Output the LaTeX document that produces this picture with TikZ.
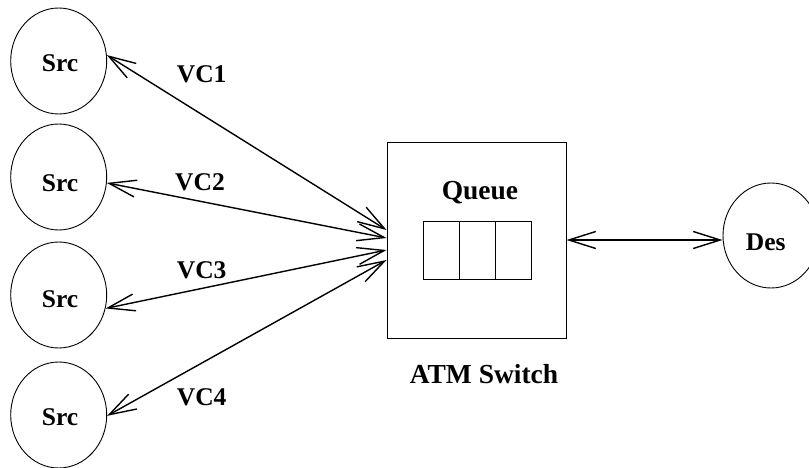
\documentclass[tikz,border=0pt]{standalone}
\usepackage{fontspec}
\setmainfont{Liberation Serif}
\usetikzlibrary{arrows.meta,shapes.geometric,calc}
\begin{document}
\begin{tikzpicture}[x=1pt,y=-1pt,
  endpt/.style={draw=black,line width=0.9pt,ellipse,minimum width=96pt,minimum height=106pt,inner sep=0pt},
  lbl/.style={anchor=base,inner sep=0pt,font=\fontsize{25.5}{28}\selectfont\bfseries},
  biglbl/.style={anchor=base,inner sep=0pt,font=\fontsize{27.5}{30}\selectfont\bfseries},
  conn/.style={line width=1.4pt,{Straight Barb[length=27pt,width=17pt]}-{Straight Barb[length=27pt,width=17pt]}},
  cell/.style={draw=black,line width=0.9pt,minimum width=36pt,minimum height=58pt,inner sep=0pt,anchor=north west}]
\useasboundingbox (0,0) rectangle (809,468);
% sources
\node[endpt] (s1) at (58.7,61) {};
\node[endpt] (s2) at (58.7,177) {};
\node[endpt] (s3) at (58.7,295) {};
\node[endpt] (s4) at (58.7,415) {};
\node[lbl] (t1) at (60,71.7) {Src};
\node[lbl] (t2) at (60,191.7) {Src};
\node[lbl] (t3) at (60,307) {Src};
\node[lbl] (t4) at (60,425) {Src};
% switch
\node[draw=black,line width=0.9pt,minimum width=179pt,minimum height=196pt,inner sep=0pt] (sw) at (476.5,240) {};
\node[biglbl] (q) at (480,200) {Queue};
\node[cell] (c1) at (423,221) {};
\node[cell] (c2) at (459,221) {};
\node[cell] (c3) at (495,221) {};
\node[biglbl] (atm) at (484,383) {ATM Switch};
% destination
\node[endpt,minimum height=105pt] (des) at (771,235.5) {};
\node[lbl] (td) at (765.7,250) {Des};
% connectors
\draw[conn] (s1.7.4) -- ($(sw.west)+(0,-10)$);
\draw[conn] (s2.-7) -- ($(sw.west)+(0,-2)$);
\draw[conn] (s3.-16.8) -- ($(sw.west)+(0,10)$);
\draw[conn] (s4.-1) -- ($(sw.west)+(0,20)$);
\draw[conn] (sw.east) -- (sw.east -| des.west);
% labels
\node[lbl] (vc1) at (201.7,83) {VC1};
\node[lbl] (vc2) at (200,190) {VC2};
\node[lbl] (vc3) at (201.7,278) {VC3};
\node[lbl] (vc4) at (201.7,405) {VC4};
\end{tikzpicture}
\end{document}
